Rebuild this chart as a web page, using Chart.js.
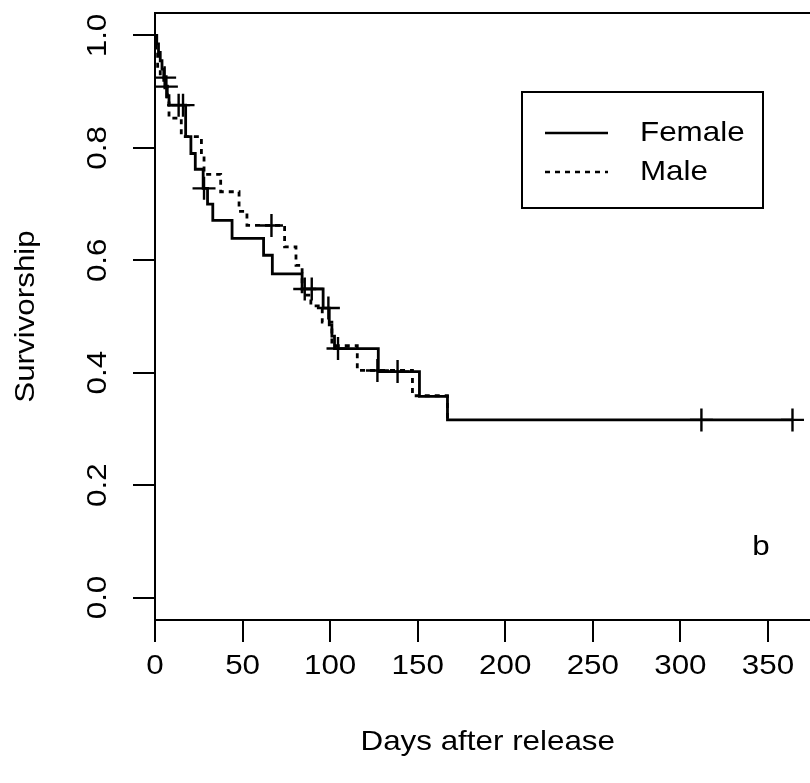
<!DOCTYPE html>
<html>
<head>
<meta charset="utf-8">
<script src="https://cdn.jsdelivr.net/npm/chart.js@4.4.1/dist/chart.umd.min.js"></script>
<style>
  html, body { margin: 0; padding: 0; background: #fff; overflow: hidden; }
</style>
</head>
<body>
<canvas id="km" width="810" height="783"></canvas>
<script>
// Kaplan-Meier survivorship after release, by sex (panel b).
// Each curve: event days and survival after that event; censor days get a "+".
const femaleDays = [0, 1, 2, 3, 4, 5, 6, 7, 8, 17.5, 20.5, 23, 27.5, 30, 33, 44, 62, 67, 84, 96, 99.5, 101, 102.5, 127.5, 151, 167];
const femaleSurv = [1, 0.985, 0.97, 0.955, 0.94, 0.925, 0.91, 0.893, 0.876, 0.82, 0.79, 0.762, 0.728, 0.70, 0.671, 0.639, 0.609, 0.576, 0.549, 0.515, 0.485, 0.465, 0.443, 0.402, 0.358, 0.316];
const femaleCensor = [5.5, 13.5, 16, 28, 85.5, 89.5, 99, 104.5, 138.5, 312, 364];

const maleDays = [0, 0.5, 1.5, 3, 5, 7, 8, 15, 26.5, 28, 37.5, 48, 52.5, 74, 80.5, 84, 89, 95.5, 101, 115.5, 147, 167];
const maleSurv = [1, 0.97, 0.945, 0.925, 0.909, 0.88, 0.853, 0.82, 0.787, 0.753, 0.722, 0.687, 0.662, 0.624, 0.591, 0.538, 0.519, 0.49, 0.448, 0.404, 0.359, 0.316];
const maleCensor = [6.5, 66.5, 127];

const seriesNames = ['Female', 'Male'];
const xTitle = 'Days after release';
const yTitle = 'Survivorship';
const panelTag = 'b';

const FONT = '28px "Liberation Sans", Arial, sans-serif';
const STRETCH = 1.12;   // the R bitmap font is a bit wider than Liberation
const X_FRAME = 380;    // R's box sits past the right edge of the picture

function survAt(days, surv, t) {
  let s = surv[0];
  for (let i = 0; i < days.length; i++) if (days[i] <= t) s = surv[i];
  return s;
}

function curvePoints(days, surv, censor) {
  const pts = days.map((d, i) => ({ x: d, y: surv[i] }));
  const lastC = Math.max(...censor);
  if (lastC > days[days.length - 1]) pts.push({ x: lastC, y: surv[surv.length - 1] });
  return pts;
}

function censorPoints(days, surv, censor) {
  return censor.map(c => ({ x: c, y: survAt(days, surv, c) }));
}

function text(ctx, str, x, y, rot, align) {
  ctx.save();
  ctx.translate(x, y);
  if (rot) ctx.rotate(rot);
  ctx.scale(STRETCH, 1);
  ctx.textAlign = align || 'center';
  ctx.fillText(str, 0, 0);
  ctx.restore();
}

// R-style frame, tick labels, titles and legend box.
const rDecor = {
  id: 'rDecor',
  afterDraw(chart) {
    const { ctx, chartArea: a, scales: { x, y } } = chart;
    ctx.save();
    ctx.strokeStyle = '#000';
    ctx.fillStyle = '#000';
    ctx.lineWidth = 2;
    const fr = x.getPixelForValue(X_FRAME);
    ctx.strokeRect(a.left, a.top, fr - a.left, a.bottom - a.top);

    ctx.font = FONT;
    ctx.textBaseline = 'middle';
    x.ticks.forEach(t => text(ctx, String(t.value), x.getPixelForValue(t.value), 666));
    y.ticks.forEach(t => text(ctx, t.value.toFixed(1), 98, y.getPixelForValue(t.value), -Math.PI / 2));

    text(ctx, xTitle, (a.left + fr) / 2, 742);
    text(ctx, yTitle, 26, (a.top + a.bottom) / 2, -Math.PI / 2);
    text(ctx, panelTag, x.getPixelForValue(346), y.getPixelForValue(0.09));

    // legend
    const L = 522, T = 92, R = 763, B = 208;
    ctx.lineWidth = 2;
    ctx.strokeRect(L, T, R - L, B - T);
    const rows = [133, 172];
    chart.data.datasets.filter(d => d.legend).forEach((d, i) => {
      ctx.save();
      ctx.lineWidth = 2.4;
      ctx.setLineDash(d.borderDash || []);
      ctx.beginPath();
      ctx.moveTo(545, rows[i]);
      ctx.lineTo(608, rows[i]);
      ctx.stroke();
      ctx.restore();
      text(ctx, d.label, 640, rows[i], 0, 'left');
    });
    ctx.restore();
  }
};

const curve = (label, pts, dash) => ({
  label, data: pts, legend: true,
  showLine: true, stepped: true, pointRadius: 0,
  borderColor: '#000', borderWidth: 2.8, borderDash: dash, fill: false,
});
const marks = (label, pts) => ({
  label, data: pts, showLine: false,
  pointStyle: 'cross', pointRadius: 11.5, pointBorderWidth: 2.4,
  borderColor: '#000', backgroundColor: '#000',
});

new Chart(document.getElementById('km'), {
  type: 'scatter',
  data: {
    datasets: [
      curve(seriesNames[0], curvePoints(femaleDays, femaleSurv, femaleCensor), []),
      curve(seriesNames[1], curvePoints(maleDays, maleSurv, maleCensor), [5, 5]),
      marks(seriesNames[0] + ' censored', censorPoints(femaleDays, femaleSurv, femaleCensor)),
      marks(seriesNames[1] + ' censored', censorPoints(maleDays, maleSurv, maleCensor)),
    ],
  },
  options: {
    responsive: false, animation: false, devicePixelRatio: 1,
    layout: { autoPadding: false, padding: { top: 13, left: 0, right: 0, bottom: 0 } },
    plugins: { legend: { display: false }, tooltip: { enabled: false } },
    scales: {
      x: {
        type: 'linear', min: 0, max: 374,
        ticks: { stepSize: 50, includeBounds: false, display: false },
        grid: { drawOnChartArea: false, drawTicks: true, tickLength: 22, color: '#000', lineWidth: 2 },
        border: { display: false },
        afterFit: s => { s.height = 163; },
      },
      y: {
        min: -0.04, max: 1.04,
        ticks: { stepSize: 0.2, includeBounds: false, display: false },
        grid: { drawOnChartArea: false, drawTicks: true, tickLength: 22, color: '#000', lineWidth: 2 },
        border: { display: false },
        afterFit: s => { s.width = 155; },
      },
    },
  },
  plugins: [rDecor],
});
</script>
</body>
</html>
